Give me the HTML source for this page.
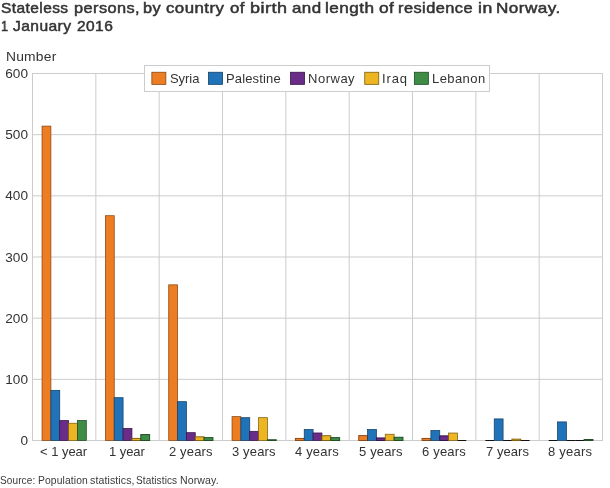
<!DOCTYPE html>
<html><head><meta charset="utf-8">
<style>
html,body{margin:0;padding:0;background:#fff;}
body{width:610px;height:488px;position:relative;overflow:hidden;font-family:"Liberation Sans",sans-serif;color:#333;}
.t{position:absolute;white-space:nowrap;line-height:1;transform-origin:0 0;will-change:transform;}
.title{font-weight:normal;font-size:15px;color:#333;-webkit-text-stroke:0.5px #333;}
.ax{font-size:13px;color:#333;}
.yl{text-align:right;width:28px;left:0;font-size:13.6px;}
.src{font-size:10px;color:#3a3a3a;}
</style></head><body>
<svg width="610" height="488" style="position:absolute;left:0;top:0">
<line x1="32.0" x2="603.0" y1="440.50" y2="440.50" stroke="#cccccc" stroke-width="1"/>
<line x1="32.0" x2="603.0" y1="379.33" y2="379.33" stroke="#cccccc" stroke-width="1"/>
<line x1="32.0" x2="603.0" y1="318.17" y2="318.17" stroke="#cccccc" stroke-width="1"/>
<line x1="32.0" x2="603.0" y1="257.00" y2="257.00" stroke="#cccccc" stroke-width="1"/>
<line x1="32.0" x2="603.0" y1="195.83" y2="195.83" stroke="#cccccc" stroke-width="1"/>
<line x1="32.0" x2="603.0" y1="134.67" y2="134.67" stroke="#cccccc" stroke-width="1"/>
<line x1="32.0" x2="603.0" y1="73.50" y2="73.50" stroke="#cccccc" stroke-width="1"/>
<line x1="32.50" x2="32.50" y1="73.5" y2="440.5" stroke="#cccccc" stroke-width="1"/>
<line x1="95.83" x2="95.83" y1="73.5" y2="440.5" stroke="#cccccc" stroke-width="1"/>
<line x1="159.17" x2="159.17" y1="73.5" y2="440.5" stroke="#cccccc" stroke-width="1"/>
<line x1="222.50" x2="222.50" y1="73.5" y2="440.5" stroke="#cccccc" stroke-width="1"/>
<line x1="285.83" x2="285.83" y1="73.5" y2="440.5" stroke="#cccccc" stroke-width="1"/>
<line x1="349.17" x2="349.17" y1="73.5" y2="440.5" stroke="#cccccc" stroke-width="1"/>
<line x1="412.50" x2="412.50" y1="73.5" y2="440.5" stroke="#cccccc" stroke-width="1"/>
<line x1="475.83" x2="475.83" y1="73.5" y2="440.5" stroke="#cccccc" stroke-width="1"/>
<line x1="539.17" x2="539.17" y1="73.5" y2="440.5" stroke="#cccccc" stroke-width="1"/>
<line x1="602.50" x2="602.50" y1="73.5" y2="440.5" stroke="#cccccc" stroke-width="1"/>
<rect x="42.04" y="126.10" width="8.85" height="314.40" fill="#ed7d23" stroke="#8a4510" stroke-width="0.75"/>
<rect x="50.89" y="390.34" width="8.85" height="50.16" fill="#2173b9" stroke="#123f66" stroke-width="0.75"/>
<rect x="59.74" y="420.56" width="8.85" height="19.94" fill="#6b2c87" stroke="#35134a" stroke-width="0.75"/>
<rect x="68.59" y="423.25" width="8.85" height="17.25" fill="#eeb522" stroke="#7d5e0c" stroke-width="0.75"/>
<rect x="77.44" y="420.56" width="8.85" height="19.94" fill="#3e8c46" stroke="#1c4a22" stroke-width="0.75"/>
<rect x="105.38" y="215.71" width="8.85" height="224.79" fill="#ed7d23" stroke="#8a4510" stroke-width="0.75"/>
<rect x="114.23" y="397.68" width="8.85" height="42.82" fill="#2173b9" stroke="#123f66" stroke-width="0.75"/>
<rect x="123.08" y="428.45" width="8.85" height="12.05" fill="#6b2c87" stroke="#35134a" stroke-width="0.75"/>
<rect x="131.93" y="438.42" width="8.85" height="2.08" fill="#eeb522" stroke="#7d5e0c" stroke-width="0.95"/>
<rect x="140.78" y="434.57" width="8.85" height="5.93" fill="#3e8c46" stroke="#1c4a22" stroke-width="0.95"/>
<rect x="168.71" y="284.83" width="8.85" height="155.67" fill="#ed7d23" stroke="#8a4510" stroke-width="0.75"/>
<rect x="177.56" y="401.66" width="8.85" height="38.84" fill="#2173b9" stroke="#123f66" stroke-width="0.75"/>
<rect x="186.41" y="432.67" width="8.85" height="7.83" fill="#6b2c87" stroke="#35134a" stroke-width="0.75"/>
<rect x="195.26" y="436.83" width="8.85" height="3.67" fill="#eeb522" stroke="#7d5e0c" stroke-width="0.95"/>
<rect x="204.11" y="437.63" width="8.85" height="2.87" fill="#3e8c46" stroke="#1c4a22" stroke-width="0.95"/>
<rect x="232.04" y="416.64" width="8.85" height="23.86" fill="#ed7d23" stroke="#8a4510" stroke-width="0.75"/>
<rect x="240.89" y="417.68" width="8.85" height="22.82" fill="#2173b9" stroke="#123f66" stroke-width="0.75"/>
<rect x="249.74" y="431.32" width="8.85" height="9.18" fill="#6b2c87" stroke="#35134a" stroke-width="0.75"/>
<rect x="258.59" y="417.68" width="8.85" height="22.82" fill="#eeb522" stroke="#7d5e0c" stroke-width="0.75"/>
<rect x="267.44" y="439.77" width="8.85" height="0.73" fill="#3e8c46" stroke="#1c4a22" stroke-width="0.95"/>
<rect x="295.38" y="438.42" width="8.85" height="2.08" fill="#ed7d23" stroke="#8a4510" stroke-width="0.95"/>
<rect x="304.23" y="429.49" width="8.85" height="11.01" fill="#2173b9" stroke="#123f66" stroke-width="0.75"/>
<rect x="313.08" y="432.98" width="8.85" height="7.52" fill="#6b2c87" stroke="#35134a" stroke-width="0.75"/>
<rect x="321.93" y="435.73" width="8.85" height="4.77" fill="#eeb522" stroke="#7d5e0c" stroke-width="0.95"/>
<rect x="330.78" y="437.63" width="8.85" height="2.87" fill="#3e8c46" stroke="#1c4a22" stroke-width="0.95"/>
<rect x="358.71" y="435.61" width="8.85" height="4.89" fill="#ed7d23" stroke="#8a4510" stroke-width="0.95"/>
<rect x="367.56" y="429.49" width="8.85" height="11.01" fill="#2173b9" stroke="#123f66" stroke-width="0.75"/>
<rect x="376.41" y="437.93" width="8.85" height="2.57" fill="#6b2c87" stroke="#35134a" stroke-width="0.95"/>
<rect x="385.26" y="434.26" width="8.85" height="6.24" fill="#eeb522" stroke="#7d5e0c" stroke-width="0.75"/>
<rect x="394.11" y="437.26" width="8.85" height="3.24" fill="#3e8c46" stroke="#1c4a22" stroke-width="0.95"/>
<rect x="422.04" y="438.42" width="8.85" height="2.08" fill="#ed7d23" stroke="#8a4510" stroke-width="0.95"/>
<rect x="430.89" y="430.53" width="8.85" height="9.97" fill="#2173b9" stroke="#123f66" stroke-width="0.75"/>
<rect x="439.74" y="435.85" width="8.85" height="4.65" fill="#6b2c87" stroke="#35134a" stroke-width="0.95"/>
<rect x="448.59" y="433.04" width="8.85" height="7.46" fill="#eeb522" stroke="#7d5e0c" stroke-width="0.75"/>
<line x1="457.44" x2="466.29" y1="440.50" y2="440.50" stroke="#111" stroke-width="1"/>
<line x1="485.38" x2="494.23" y1="440.50" y2="440.50" stroke="#111" stroke-width="1"/>
<rect x="494.23" y="418.91" width="8.85" height="21.59" fill="#2173b9" stroke="#123f66" stroke-width="0.75"/>
<line x1="503.08" x2="511.93" y1="440.50" y2="440.50" stroke="#111" stroke-width="1"/>
<rect x="511.93" y="439.15" width="8.85" height="1.35" fill="#eeb522" stroke="#7d5e0c" stroke-width="0.95"/>
<line x1="520.78" x2="529.63" y1="440.50" y2="440.50" stroke="#111" stroke-width="1"/>
<line x1="548.71" x2="557.56" y1="440.50" y2="440.50" stroke="#111" stroke-width="1"/>
<rect x="557.56" y="421.91" width="8.85" height="18.59" fill="#2173b9" stroke="#123f66" stroke-width="0.75"/>
<line x1="566.41" x2="575.26" y1="440.50" y2="440.50" stroke="#111" stroke-width="1"/>
<line x1="575.26" x2="584.11" y1="440.50" y2="440.50" stroke="#111" stroke-width="1"/>
<rect x="584.11" y="439.46" width="8.85" height="1.04" fill="#3e8c46" stroke="#1c4a22" stroke-width="0.95"/>
<rect x="144.5" y="65.5" width="345" height="26" fill="#fff" stroke="#cccccc" stroke-width="1"/>
<rect x="151.85" y="72.25" width="14" height="12.1" fill="#ed7d23" stroke="#8a4510" stroke-width="0.8"/>
<rect x="208.55" y="72.25" width="14" height="12.1" fill="#2173b9" stroke="#123f66" stroke-width="0.8"/>
<rect x="290.55" y="72.25" width="14" height="12.1" fill="#6b2c87" stroke="#35134a" stroke-width="0.8"/>
<rect x="364.75" y="72.25" width="14" height="12.1" fill="#eeb522" stroke="#7d5e0c" stroke-width="0.8"/>
<rect x="414.35" y="72.25" width="14" height="12.1" fill="#3e8c46" stroke="#1c4a22" stroke-width="0.8"/>
</svg>
<div class="t title" style="left:0.70px;top:0.1px;letter-spacing:0.4px;transform:scaleX(1.034)">Stateless</div>
<div class="t title" style="left:73.76px;top:0.1px;letter-spacing:0.4px;transform:scaleX(1.088)">persons,</div>
<div class="t title" style="left:143.46px;top:0.1px;letter-spacing:0.4px;transform:scaleX(1.086)">by</div>
<div class="t title" style="left:166.41px;top:0.1px;letter-spacing:0.4px;transform:scaleX(1.123)">country</div>
<div class="t title" style="left:230.23px;top:0.1px;letter-spacing:0.4px;transform:scaleX(1.12)">of</div>
<div class="t title" style="left:250.00px;top:0.1px;letter-spacing:0.4px;transform:scaleX(1.199)">birth</div>
<div class="t title" style="left:291.63px;top:0.1px;letter-spacing:0.4px;transform:scaleX(1.128)">and</div>
<div class="t title" style="left:324.71px;top:0.1px;letter-spacing:0.4px;transform:scaleX(1.145)">length</div>
<div class="t title" style="left:378.53px;top:0.1px;letter-spacing:0.4px;transform:scaleX(1.151)">of</div>
<div class="t title" style="left:398.22px;top:0.1px;letter-spacing:0.4px;transform:scaleX(1.092)">residence</div>
<div class="t title" style="left:477.71px;top:0.1px;letter-spacing:0.4px;transform:scaleX(1.176)">in</div>
<div class="t title" style="left:496.47px;top:0.1px;letter-spacing:0.4px;transform:scaleX(1.14)">Norway.</div>
<div class="t title" style="left:0.61px;top:18.3px;transform:scaleX(0.847)">1</div>
<div class="t title" style="left:12.87px;top:18.3px;letter-spacing:0.4px;transform:scaleX(1.04)">January</div>
<div class="t title" style="left:76.59px;top:18.3px;letter-spacing:0.4px;transform:scaleX(1.035)">2016</div>
<div class="t ax" style="left:6.17px;top:50.1px;letter-spacing:0.2px;transform:scaleX(1.064)">Number</div>
<div class="t ax" style="left:169.65px;top:72px;letter-spacing:-0.05px">Syria</div>
<div class="t ax" style="left:226.49px;top:72px;letter-spacing:0.15px">Palestine</div>
<div class="t ax" style="left:308.39px;top:72px;letter-spacing:0.51px">Norway</div>
<div class="t ax" style="left:382.00px;top:72px;letter-spacing:0.87px">Iraq</div>
<div class="t ax" style="left:431.89px;top:72px;letter-spacing:0.42px">Lebanon</div>
<div class="t src" style="left:0.21px;top:475.5px;letter-spacing:0.1px;transform:scaleX(1.004)">Source:</div>
<div class="t src" style="left:37.59px;top:475.5px;letter-spacing:0.1px;transform:scaleX(1.033)">Population</div>
<div class="t src" style="left:90.20px;top:475.5px;letter-spacing:0.1px;transform:scaleX(1.057)">statistics,</div>
<div class="t src" style="left:136.21px;top:475.5px;letter-spacing:0.1px;transform:scaleX(1.005)">Statistics</div>
<div class="t src" style="left:180.17px;top:475.5px;letter-spacing:0.1px;transform:scaleX(1.057)">Norway.</div>
<div class="t ax" style="left:39.84px;top:444.9px;letter-spacing:-0.03px">&lt; 1 year</div>
<div class="t ax" style="left:109.11px;top:444.9px;letter-spacing:-0.06px">1 year</div>
<div class="t ax" style="left:169.12px;top:444.9px;letter-spacing:0.14px">2 years</div>
<div class="t ax" style="left:232.06px;top:444.9px;letter-spacing:0.14px">3 years</div>
<div class="t ax" style="left:295.34px;top:444.9px;letter-spacing:0.17px">4 years</div>
<div class="t ax" style="left:359.23px;top:444.9px;letter-spacing:0.16px">5 years</div>
<div class="t ax" style="left:422.02px;top:444.9px;letter-spacing:0.18px">6 years</div>
<div class="t ax" style="left:486.02px;top:444.9px;letter-spacing:0.06px">7 years</div>
<div class="t ax" style="left:548.47px;top:444.9px;letter-spacing:0.23px">8 years</div>
<div class="t ax yl" style="top:434.1px">0</div>
<div class="t ax yl" style="top:372.9px">100</div>
<div class="t ax yl" style="top:311.8px">200</div>
<div class="t ax yl" style="top:250.6px">300</div>
<div class="t ax yl" style="top:189.4px">400</div>
<div class="t ax yl" style="top:128.3px">500</div>
<div class="t ax yl" style="top:67.1px">600</div>
</body></html>
